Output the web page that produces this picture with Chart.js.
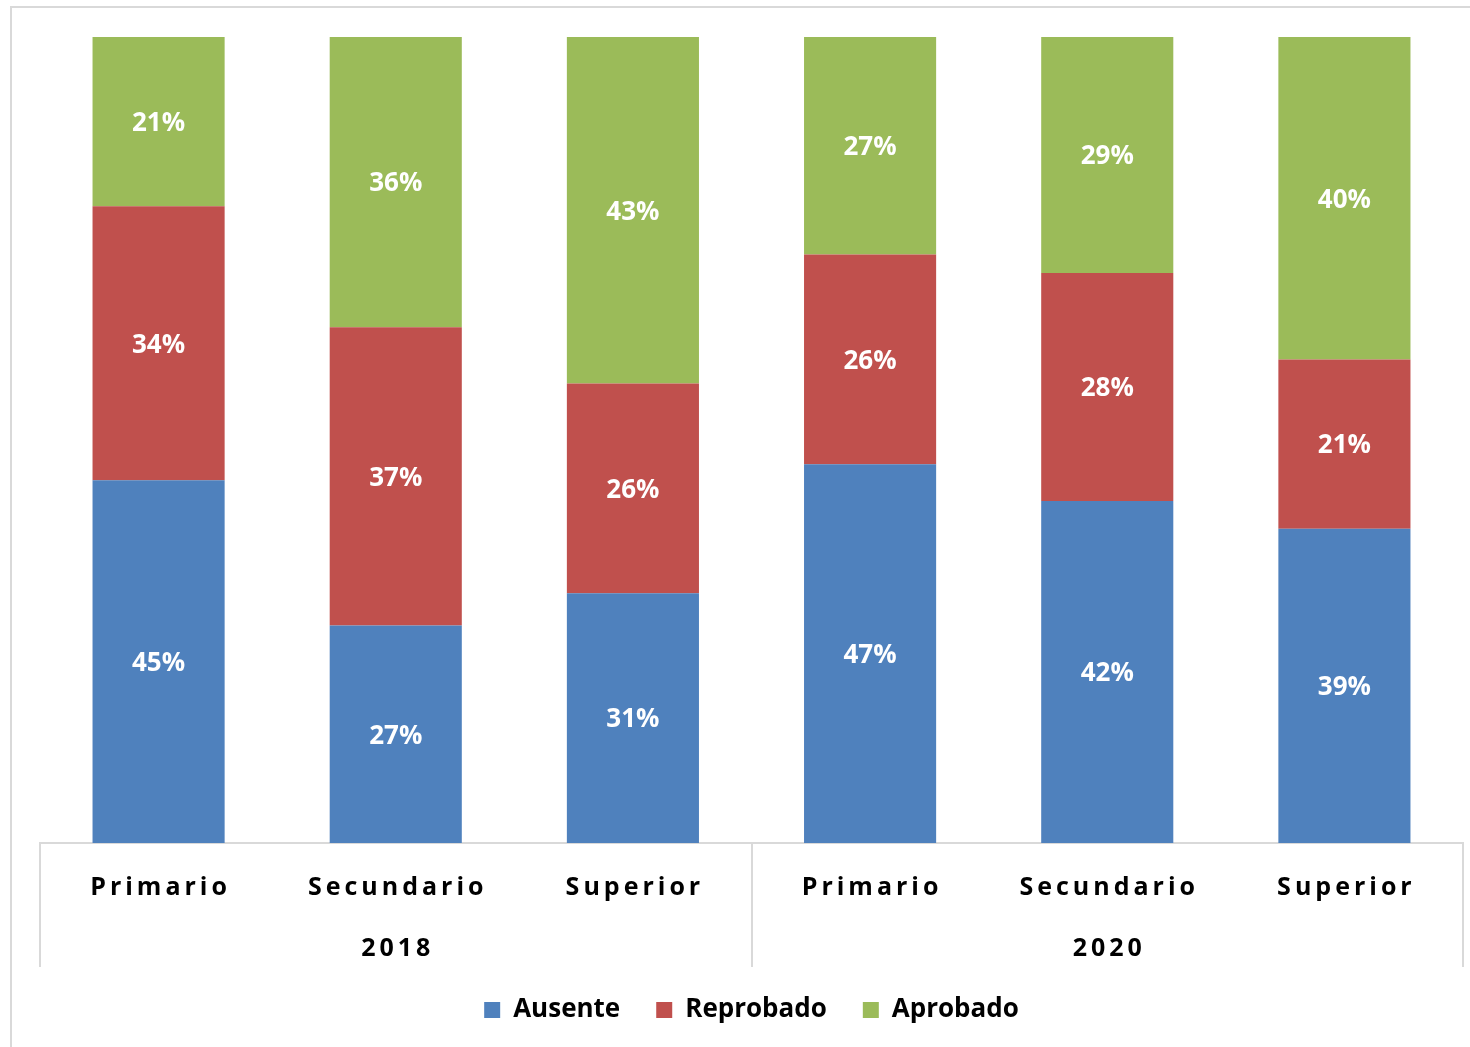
<!DOCTYPE html>
<html>
<head>
<meta charset="utf-8">
<script src="https://cdn.jsdelivr.net/npm/chart.js@4.4.0/dist/chart.umd.min.js"></script>
<style>
  html, body { margin: 0; padding: 0; background: #fff; overflow: hidden; }
  #frame { position: absolute; left: 10px; top: 6px; width: 1480px; height: 1080px; border: 2px solid #d9d9d9; box-sizing: border-box; }
  #wrap { position: absolute; left: 0; top: 0; width: 1470px; height: 1047px; }
</style>
</head>
<body>
<div id="frame"></div>
<div id="wrap"><canvas id="chart"></canvas></div>
<script>
// categories on the x axis, grouped by year
const categories = ['Primario', 'Secundario', 'Superior', 'Primario', 'Secundario', 'Superior'];
const years = ['2018', '2020'];

// percentages as printed on the bars
const ausente = [45, 27, 31, 47, 42, 39];
const reprobado = [34, 37, 26, 26, 28, 21];
const aprobado = [21, 36, 43, 27, 29, 40];

// 100% stacked: each column is scaled to its own total
const totals = categories.map((c, i) => ausente[i] + reprobado[i] + aprobado[i]);
const share = arr => arr.map((v, i) => v / totals[i] * 100);

const FONT = '"Open Sans", "DejaVu Sans", sans-serif';

// white % labels in the middle of each segment
const valueLabels = {
  id: 'valueLabels',
  afterDatasetsDraw(chart) {
    const ctx = chart.ctx;
    ctx.save();
    ctx.font = 'bold 26px ' + FONT;
    ctx.fillStyle = '#ffffff';
    ctx.textAlign = 'center';
    ctx.textBaseline = 'middle';
    chart.data.datasets.forEach((ds, di) => {
      chart.getDatasetMeta(di).data.forEach((bar, i) => {
        const p = bar.getCenterPoint();
        ctx.fillText(ds.rawValues[i] + '%', p.x, p.y + 2);
      });
    });
    ctx.restore();
  }
};

// two-row x axis labels (category, then year) with wide letter spacing
const axisLabels = {
  id: 'axisLabels',
  afterDraw(chart) {
    const xs = chart.scales.x;
    const ctx = chart.ctx;
    const sp = 4;
    ctx.save();
    ctx.font = 'bold 25px ' + FONT;
    ctx.letterSpacing = sp + 'px';
    ctx.fillStyle = '#000000';
    ctx.textAlign = 'center';
    ctx.textBaseline = 'middle';
    categories.forEach((c, i) => {
      ctx.fillText(c, xs.getPixelForTick(i) + sp / 2, xs.top + 45);
    });
    years.forEach((y, g) => {
      const mid = (xs.getPixelForTick(g * 3) + xs.getPixelForTick(g * 3 + 2)) / 2;
      ctx.fillText(y, mid + sp / 2, xs.top + 106);
    });
    ctx.restore();
  }
};

const ctx = document.getElementById('chart').getContext('2d');
const chart = new Chart(ctx, {
  type: 'bar',
  data: {
    labels: categories,
    datasets: [
      { label: 'Ausente', data: share(ausente), rawValues: ausente, backgroundColor: '#4f81bd' },
      { label: 'Reprobado', data: share(reprobado), rawValues: reprobado, backgroundColor: '#c0504d' },
      { label: 'Aprobado', data: share(aprobado), rawValues: aprobado, backgroundColor: '#9bbb59' }
    ]
  },
  options: {
    responsive: true,
    maintainAspectRatio: false,
    animation: false,
    events: [],
    datasets: {
      bar: { barPercentage: 0.557, categoryPercentage: 1, borderWidth: 0 }
    },
    layout: { padding: { left: 40, right: 7, top: 37, bottom: 14 } },
    scales: {
      x: {
        stacked: true,
        offset: true,
        grid: {
          offset: true,
          drawOnChartArea: false,
          drawTicks: true,
          tickLength: 124,
          lineWidth: 2,
          // only the group dividers are drawn
          color: c => (c.type === 'tick' && c.index % 3 !== 0) ? 'rgba(0,0,0,0)' : '#d9d9d9'
        },
        border: { display: true, color: '#d9d9d9', width: 2 },
        ticks: { display: false },
        afterFit: s => { s.height = 118; }
      },
      y: {
        stacked: true,
        min: 0,
        max: 100,
        display: false
      }
    },
    plugins: {
      legend: {
        position: 'bottom',
        labels: {
          boxWidth: 16,
          boxHeight: 16,
          padding: 36,
          color: '#000000',
          font: { family: FONT, size: 26, weight: 'bold' }
        }
      },
      tooltip: { enabled: false }
    }
  },
  plugins: [valueLabels, axisLabels]
});
</script>
</body>
</html>
